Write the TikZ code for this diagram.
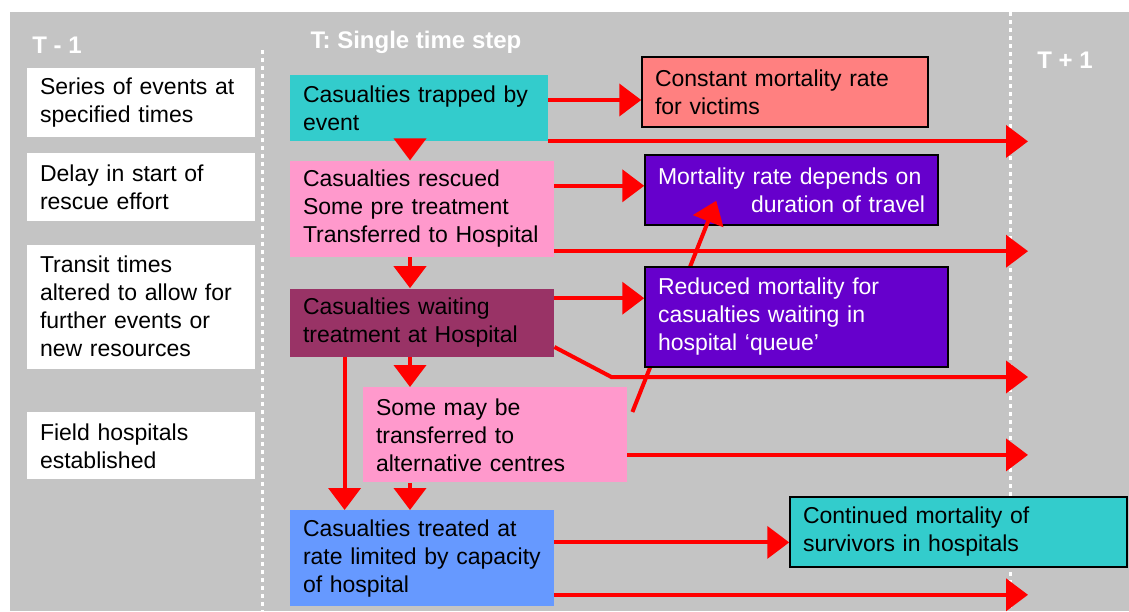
\documentclass[tikz,border=0pt]{standalone}
\usepackage{fontspec}
\setmainfont{Liberation Sans}
\usetikzlibrary{arrows.meta}
\usetikzlibrary{positioning}
\definecolor{panel}{RGB}{196,196,196}
\definecolor{cyanbox}{RGB}{51,204,204}
\definecolor{pinkbox}{RGB}{255,153,204}
\definecolor{maroonbox}{RGB}{153,51,102}
\definecolor{bluebox}{RGB}{102,153,255}
\definecolor{salmonbox}{RGB}{255,128,128}
\definecolor{purplebox}{RGB}{102,0,204}
\definecolor{arrowred}{RGB}{255,0,0}
\tikzset{auto, >={Triangle[length=11pt,width=16pt]}, font=\fontsize{11.5}{14}\selectfont}
\tikzstyle{side} = [fill=white, rectangle, text width=101pt, inner xsep=6.5pt, inner ysep=0pt, align=left]
\tikzstyle{stage} = [rectangle, text width=119pt, inner xsep=6.5pt, inner ysep=0pt, align=left]
\tikzstyle{fate} = [draw=black, line width=0.75pt, rectangle, inner xsep=6.5pt, inner ysep=0pt, align=left]
\tikzstyle{heading} = [text=white, font=\fontsize{12}{14}\selectfont\bfseries]
\tikzstyle{flow} = [->, draw=arrowred, line width=2pt]
\tikzstyle{divider} = [draw=white, line width=1.5pt, dash pattern=on 2pt off 2pt]

\begin{document}
\begin{tikzpicture}[x=0.5pt, y=-0.5pt]
    \useasboundingbox (0,0) rectangle (1129,611);
    \fill [panel] (10,12) rectangle (1129,611);
    \coordinate (tnext) at (1028,0);
    \coordinate (spine) at (410,0);
    \draw [divider] (262,50) -- (262,611);
    \draw [divider] (1010,12) -- (1010,611);

    \node [heading] (prev) at (57,45) {T - 1};
    \node [heading] (now) at (416,42) {T: Single time step};
    \node [heading] (next) at (1065,60) {T + 1};

    \node [side, minimum height=34.5pt] (events) at (141,102.5) {Series of events at\\specified times};
    \node [side, minimum height=34pt, below=7.5pt of events] (delay) {Delay in start of\\rescue effort};
    \node [side, minimum height=62pt, below=11.5pt of delay] (transit) {Transit times\\altered to allow for\\further events or\\new resources};
    \node [side, minimum height=33.5pt, below=21.5pt of transit] (field) {Field hospitals\\established};

    \node [stage, fill=cyanbox, text width=116pt, minimum height=33pt] (trapped) at (419,108) {Casualties trapped by\\event};
    \node [stage, fill=pinkbox, minimum height=48pt, below right=9.5pt and 0pt of trapped.south west] (rescued) {Casualties rescued\\Some pre treatment\\Transferred to Hospital};
    \node [stage, fill=maroonbox, minimum height=34pt, below right=15.5pt and 0pt of rescued.south west] (waiting) {Casualties waiting\\treatment at Hospital};
    \node [stage, fill=pinkbox, minimum height=47.5pt, below right=15pt and 36.5pt of waiting.south west] (transfer) {Some may be\\transferred to\\alternative centres};
    \node [stage, fill=bluebox, minimum height=48pt, below right=76.5pt and 0pt of waiting.south west] (treated) {Casualties treated at\\rate limited by capacity\\of hospital};

    \node [fate, fill=salmonbox, text width=130pt, minimum height=35pt] (constant) at (785,92) {Constant mortality rate\\for victims};
    \node [fate, fill=purplebox, text=white, text width=133.5pt, minimum height=35pt] (travel) at (791.5,190) {Mortality rate depends on\\\mbox{}\hfill duration of travel};
    \draw [flow] ([xshift=2.5pt,yshift=-12.5pt]transfer.north east) -- ([xshift=36pt,yshift=12.5pt]travel.south west);
    \node [fate, fill=purplebox, text=white, text width=138.5pt, minimum height=50pt] (reduced) at (796.5,317) {Reduced mortality for\\casualties waiting in\\hospital ‘queue’};
    \node [fate, fill=cyanbox, text width=155.5pt, minimum height=35pt] (continued) at (958.5,532) {Continued mortality of\\survivors in hospitals};

    \draw [flow] (trapped.south -| spine) -- (rescued.north -| spine);
    \draw [flow] ([yshift=4pt]trapped.east) -- ([yshift=4pt]trapped.east -| constant.west);
    \draw [flow] (trapped.south east) -- (trapped.south east -| tnext);
    \draw [flow] ([yshift=11.5pt]rescued.east) -- ([yshift=11.5pt]rescued.east -| travel.west);
    \draw [flow] ([yshift=3pt]rescued.south east) -- ([yshift=3pt]rescued.south east -| tnext);
    \draw [flow] (rescued.south -| spine) -- (waiting.north -| spine);
    \draw [flow] ([yshift=-5pt]waiting.north east) -- ([yshift=-5pt]waiting.north east -| reduced.west);
    \coordinate (kink) at ([xshift=28.5pt,yshift=-10pt]waiting.south east);
    \draw [flow] ([yshift=5pt]waiting.south east) -- (kink) -- (kink -| tnext);
    \draw [flow] (waiting.south -| spine) -- (transfer.north -| spine);
    \draw [flow] ([xshift=27.5pt]waiting.south west) -- ([xshift=27.5pt]treated.north west);
    \draw [flow] (transfer.south -| spine) -- (treated.north -| spine);
    \draw [flow] ([yshift=-10pt]transfer.east) -- ([yshift=-10pt]transfer.east -| tnext);
    \draw [flow] ([yshift=8pt]treated.east) -- ([yshift=8pt]treated.east -| continued.west);
    \draw [flow] ([yshift=6pt]treated.south east) -- ([yshift=6pt]treated.south east -| tnext);
\end{tikzpicture}
\end{document}
